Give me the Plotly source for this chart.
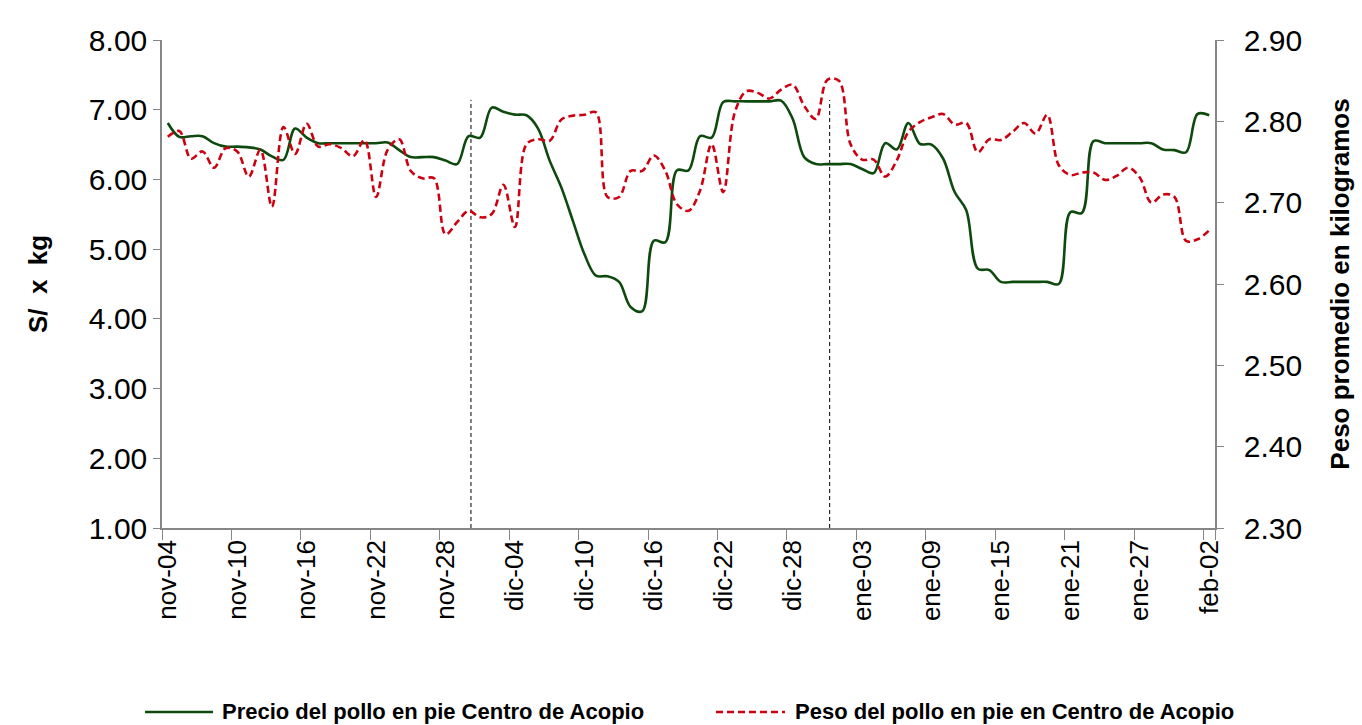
import datetime as dt
import plotly.graph_objects as go

# ---------------- data ----------------
MESES = {11: "nov", 12: "dic", 1: "ene", 2: "feb"}
start = dt.date(2019, 11, 4)
fechas = [start + dt.timedelta(days=k) for k in range(91)]
categorias = [f"{MESES[d.month]}-{d.day:02d}" for d in fechas]
etiquetas_eje = categorias[::6]

precio = [6.81, 6.61, 6.62, 6.62, 6.52, 6.47, 6.47, 6.46, 6.43, 6.33,
          6.28, 6.73, 6.60, 6.52, 6.52, 6.52, 6.52, 6.52, 6.52, 6.53,
          6.42, 6.32, 6.32, 6.32, 6.27, 6.22, 6.62, 6.60, 7.03, 6.97,
          6.93, 6.92, 6.73, 6.27, 5.89, 5.41, 4.93, 4.62, 4.61, 4.53,
          4.17, 4.11, 5.12, 5.10, 6.13, 6.13, 6.62, 6.60, 7.11, 7.12,
          7.12, 7.12, 7.12, 7.13, 6.87, 6.32, 6.22, 6.22, 6.22, 6.22,
          6.15, 6.09, 6.52, 6.43, 6.81, 6.51, 6.50, 6.30, 5.82, 5.56,
          4.72, 4.70, 4.53, 4.53, 4.53, 4.53, 4.53, 4.50, 5.53, 5.52,
          6.55, 6.52, 6.52, 6.52, 6.52, 6.52, 6.43, 6.42, 6.39, 6.94,
          6.92]

peso = [2.781, 2.788, 2.754, 2.763, 2.743, 2.767, 2.763, 2.732, 2.765, 2.695,
        2.793, 2.760, 2.797, 2.769, 2.772, 2.767, 2.757, 2.777, 2.707, 2.765,
        2.778, 2.739, 2.730, 2.730, 2.661, 2.676, 2.690, 2.682, 2.686, 2.722,
        2.670, 2.772, 2.778, 2.776, 2.802, 2.807, 2.808, 2.811, 2.707, 2.707,
        2.739, 2.739, 2.758, 2.739, 2.698, 2.690, 2.715, 2.772, 2.713, 2.811,
        2.837, 2.835, 2.828, 2.839, 2.845, 2.819, 2.803, 2.851, 2.850, 2.772,
        2.753, 2.753, 2.732, 2.752, 2.787, 2.799, 2.805, 2.809, 2.796, 2.798,
        2.762, 2.778, 2.777, 2.787, 2.798, 2.785, 2.808, 2.746, 2.734, 2.737,
        2.737, 2.728, 2.733, 2.743, 2.731, 2.700, 2.710, 2.707, 2.653, 2.655,
        2.666]

serie_precio = "Precio del pollo en pie Centro de Acopio"
serie_peso = "Peso del pollo en pie en Centro de Acopio"

# separators between months (category index) and their top (S/ x kg)
separadores = [26.2, 57.2]
separador_tope = 7.14

# ---------------- styles ----------------
FONT = "Liberation Sans, Arial, sans-serif"
AXIS_COLOR = "#868686"
GREEN = "#0E4A0E"
RED = "#CC0010"
RED_DASH = "7px,4px"

# plot area in pixels (for the hand-drawn legend below the axis)
W, H = 1362, 725
L, R, T, B = 162, 147, 40, 197
PW, PH = W - L - R, H - T - B


def px_x(px):
    return (px - L) / PW


def px_y(py):
    return (H - B - py) / PH


fig = go.Figure()
fig.add_trace(go.Scatter(
    x=categorias, y=precio, mode="lines", name=serie_precio,
    line=dict(color=GREEN, width=2.6, shape="spline", smoothing=1.0),
))
fig.add_trace(go.Scatter(
    x=categorias, y=peso, mode="lines", yaxis="y2", name=serie_peso,
    line=dict(color=RED, width=2.6, dash=RED_DASH, shape="spline", smoothing=1.0),
))

for xs in separadores:
    fig.add_shape(type="line", xref="x", yref="y", x0=xs, x1=xs, y0=1, y1=separador_tope,
                  line=dict(color="black", width=1, dash="4px,3px"), layer="below")

# legend (drawn by hand so that it sits in one row like the original)
LEG_Y = 712
legend_items = [
    (145, 213, 220, serie_precio, dict(color=GREEN, width=2.6)),
    (716, 785, 793, serie_peso, dict(color=RED, width=2.6, dash=RED_DASH)),
]
for x0, x1, xt, label, lstyle in legend_items:
    fig.add_shape(type="line", xref="paper", yref="paper",
                  x0=px_x(x0), x1=px_x(x1), y0=px_y(LEG_Y), y1=px_y(LEG_Y), line=lstyle)
    fig.add_annotation(xref="paper", yref="paper", x=px_x(xt), y=px_y(LEG_Y - 1),
                       xanchor="left", yanchor="middle", showarrow=False, text=label,
                       font=dict(family=FONT, size=22, weight="bold", color="black"))

fig.update_layout(
    width=W, height=H,
    margin=dict(l=L, r=R, t=T, b=B),
    plot_bgcolor="white", paper_bgcolor="white",
    font=dict(family=FONT, color="black"),
    showlegend=False,
    xaxis=dict(
        type="category", range=[-0.5, 90.5],
        tickmode="array", tickvals=etiquetas_eje, ticktext=etiquetas_eje,
        tickson="boundaries", ticks="outside", ticklen=10, tickcolor=AXIS_COLOR,
        tickangle=-90, tickfont=dict(family=FONT, size=26),
        showline=True, linecolor=AXIS_COLOR, linewidth=1.5,
        showgrid=False, zeroline=False,
    ),
    yaxis=dict(
        range=[1, 8], dtick=1, tick0=1, tickformat=".2f",
        ticks="outside", ticklen=7, tickcolor=AXIS_COLOR,
        tickfont=dict(family=FONT, size=30),
        showline=True, linecolor=AXIS_COLOR, linewidth=1.5,
        showgrid=False, zeroline=False,
        title=dict(text="S/  x  kg", font=dict(family=FONT, size=26, weight="bold"), standoff=34),
    ),
    yaxis2=dict(
        overlaying="y", side="right", range=[2.3, 2.9], dtick=0.1, tick0=2.3,
        tickformat=".2f", ticks="outside", ticklen=7, tickcolor=AXIS_COLOR,
        ticklabelstandoff=14,
        tickfont=dict(family=FONT, size=30),
        showline=True, linecolor=AXIS_COLOR, linewidth=1.5,
        showgrid=False, zeroline=False,
        title=dict(text="Peso promedio en kilogramos", font=dict(family=FONT, size=26, weight="bold"), standoff=30),
    ),
)

fig.write_html("out.html", config={"displayModeBar": False},
               post_script="document.body.style.margin='0';")
